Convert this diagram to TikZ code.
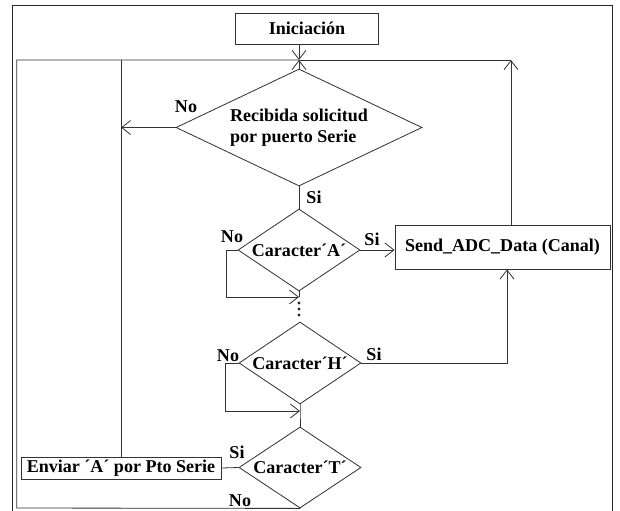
\documentclass[tikz,border=0pt]{standalone}
\usepackage{fontspec}
\setmainfont{Liberation Serif}
\usetikzlibrary{shapes.geometric,arrows.meta,calc}

\begin{document}
\begin{tikzpicture}[x=0.3mm,y=-0.3mm,
  every node/.style={font=\bfseries\fontsize{15.4}{18.5}\selectfont},
  box/.style={draw=black!80,line width=0.7pt,inner sep=1pt},
  cond/.style={draw=black!80,line width=0.7pt,diamond,aspect=1.49,inner sep=0pt,
    minimum width=36.6mm,minimum height=24.6mm},
  lbl/.style={inner sep=0pt},
  flow/.style={draw=black!80,line width=0.7pt},
  arr/.style={flow,-{Straight Barb[length=2.7mm,width=4.2mm]}}]
\useasboundingbox (0,0) rectangle (620,510);
% marco
\draw[black!85,line width=1.1pt] (12.7,520) -- (12.7,5.7) -- (612.7,5.7) -- (612.7,520);

\node[box,minimum width=42.9mm,minimum height=9.3mm] (ini) at (307,28.5) {Iniciación};
\node[cond,aspect=2.1,minimum width=73.8mm,minimum height=35.1mm,align=left] (recv) at (299,127.5)
  {Recibida solicitud\\por puerto Serie};
\node[cond] (chA) at (299,250) {Caracter´A´};
\node[cond] (chH) at (300,363) {Caracter´H´};
\node[cond,minimum height=24.3mm] (chT) at (300,467.5) {Caracter´T´};
\node[box,minimum width=64.5mm,minimum height=13.2mm] (send) at (502.5,247) {Send\_ADC\_Data (Canal)};
\node[box,minimum width=60mm,minimum height=6.6mm] (env) at (121,468) {Enviar ´A´ por Pto Serie};

\node[lbl] (no1) at (186,107) {No};
\node[lbl] (si1) at (314,197) {Si};
\node[lbl] (noA) at (232,236.5) {No};
\node[lbl] (siA) at (372,239) {Si};
\node[lbl] (noH) at (228,356) {No};
\node[lbl] (siH) at (374,354) {Si};
\node[lbl] (siT) at (237,452) {Si};
\node[lbl] (noT) at (240,501) {No};

\coordinate (top) at (299,60);
\coordinate (jA) at (299,297);
\coordinate (jH) at (300,411);
\coordinate (sendTop) at ($(send.north)+(8.5,0)$);
\coordinate (cornerTR) at (sendTop |- top);
\coordinate (cornerBL) at (16.7,508);
\coordinate (cornerTL) at (16.7,60);

% cruce de flechas arriba
\draw[arr] (ini.south -| top) -- (top);
\draw[arr] (recv.north) -- (top);
\draw[arr] (recv.west) -- (recv.west -| env.north);
\draw[flow] (recv.south) -- (chA.north);
\draw[arr] (chA.east) -- (chA.east -| send.west);
\draw[arr] (chA.west) -- ++(-11,0) |- (jA);
\draw[flow] (chA.south) -- (jA);
\foreach \y in {303,309,315}
  \fill[black!85] (299,\y) circle (1.6);
\draw[arr] (chH.east) -| ($(send.south)+(4.5,0)$);
\draw[arr] (chH.west) -- ++(-13,0) |- (jH);
\draw[flow] (chH.south) -- (jH) -- (chT.north);
\draw[flow] (chT.west) -- (env.east);
\draw[flow] (env.north) -- (env.north |- top);
\draw[arr] (sendTop) -- (cornerTR);
\draw[flow] (cornerTR) -- (top);
\draw[flow] (chT.south) -- (cornerBL) -- (cornerTL) -- (top);
\end{tikzpicture}
\end{document}
